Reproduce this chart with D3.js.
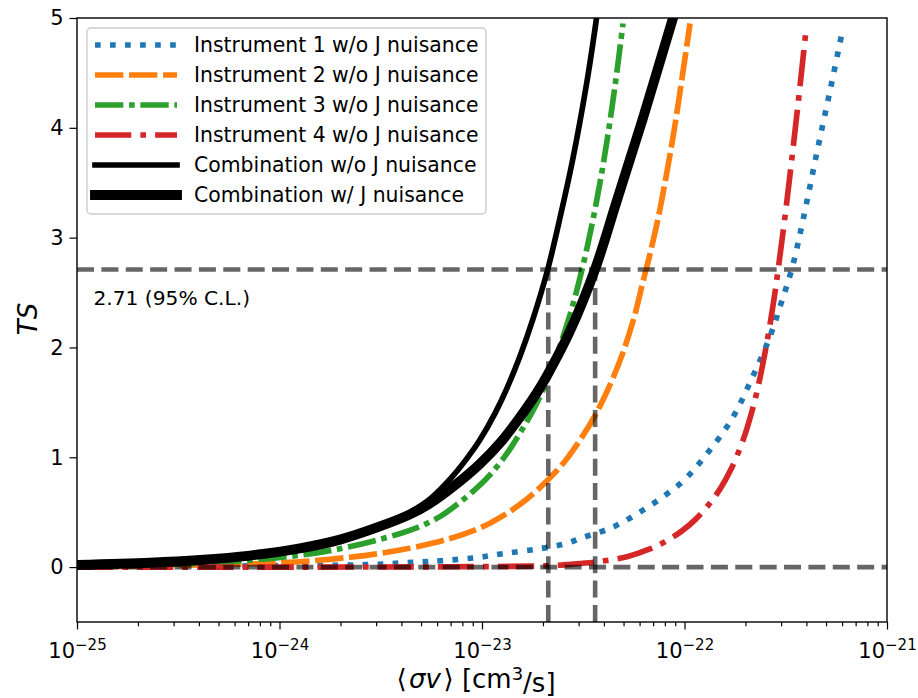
<!DOCTYPE html>
<html><head><meta charset="utf-8">
<script src="https://cdn.jsdelivr.net/npm/d3@7"></script>
<style>
body{margin:0;background:#fff}
svg{display:block}
text{font-family:"DejaVu Sans",sans-serif;fill:#000}
</style>
</head><body>
<svg id="c" width="918" height="698"></svg>
<script>
// ---------------- data ----------------
const legendLabels = [
  "Instrument 1 w/o J nuisance",
  "Instrument 2 w/o J nuisance",
  "Instrument 3 w/o J nuisance",
  "Instrument 4 w/o J nuisance",
  "Combination w/o J nuisance",
  "Combination w/ J nuisance"
];
const xTickExponents = [-25, -24, -23, -22, -21];
const yTicks = [0, 1, 2, 3, 4, 5];

const inst1SigmaV = [1.0e-25, 4.05e-25, 1.04e-24, 2.50e-24, 4.78e-24, 6.49e-24, 9.77e-24, 1.146e-23, 2.118e-23, 2.659e-23, 3.154e-23, 4.385e-23, 5.894e-23, 7.832e-23, 1.006e-22, 1.277e-22, 1.716e-22, 2.154e-22, 2.644e-22, 2.996e-22, 3.395e-22, 3.848e-22, 4.511e-22, 5.290e-22, 6.064e-22];
const inst1TS     = [0.003, 0.008, 0.013, 0.02, 0.045, 0.06, 0.09, 0.11, 0.18, 0.22, 0.27, 0.36, 0.49, 0.64, 0.80, 1.02, 1.35, 1.72, 2.10, 2.40, 2.72, 3.16, 3.78, 4.38, 4.91];

const inst2SigmaV = [1.0e-25, 2.29e-25, 4.05e-25, 1.04e-24, 2.23e-24, 3.94e-24, 6.95e-24, 1.095e-23, 1.668e-23, 2.428e-23, 2.980e-23, 3.614e-23, 4.286e-23, 4.914e-23, 5.631e-23, 6.239e-23, 6.754e-23, 7.397e-23, 8.102e-23, 8.874e-23, 9.72e-23, 1.065e-22];
const inst2TS     = [0.005, 0.01, 0.02, 0.04, 0.09, 0.155, 0.26, 0.40, 0.62, 0.91, 1.13, 1.38, 1.66, 1.93, 2.27, 2.60, 2.85, 3.17, 3.55, 3.97, 4.45, 4.95];

const inst3SigmaV = [1.0e-25, 2.29e-25, 4.05e-25, 1.04e-24, 1.84e-24, 3.24e-24, 4.78e-24, 6.20e-24, 7.52e-24, 9.03e-24, 1.095e-23, 1.299e-23, 1.540e-23, 1.827e-23, 2.118e-23, 2.484e-23, 2.783e-23, 3.118e-23, 3.494e-23, 3.824e-23, 4.142e-23, 4.537e-23, 4.970e-23];
const inst3TS     = [0.01, 0.02, 0.035, 0.09, 0.155, 0.26, 0.36, 0.46, 0.57, 0.69, 0.84, 1.01, 1.22, 1.46, 1.72, 2.07, 2.36, 2.71, 3.12, 3.50, 3.88, 4.38, 4.95];

const inst4SigmaV = [1.0e-25, 1.26e-24, 6.95e-24, 2.118e-23, 2.720e-23, 3.698e-23, 5.200e-23, 6.754e-23, 8.012e-23, 9.72e-23, 1.127e-22, 1.306e-22, 1.497e-22, 1.697e-22, 1.945e-22, 2.154e-22, 2.307e-22, 2.555e-22, 2.767e-22, 2.895e-22, 3.135e-22, 3.434e-22, 3.719e-22, 3.981e-22];
const inst4TS     = [0.0, 0.0, 0.003, 0.012, 0.025, 0.048, 0.095, 0.165, 0.23, 0.33, 0.43, 0.56, 0.71, 0.89, 1.155, 1.42, 1.64, 2.05, 2.44, 2.70, 3.19, 3.81, 4.38, 4.89];

const combSigmaV  = [1.0e-25, 2.29e-25, 4.05e-25, 7.15e-25, 1.26e-24, 1.99e-24, 3.13e-24, 4.41e-24, 5.54e-24, 6.95e-24, 8.43e-24, 9.77e-24, 1.159e-23, 1.329e-23, 1.540e-23, 1.786e-23, 2.118e-23, 2.455e-23, 2.783e-23, 3.048e-23, 3.338e-23, 3.614e-23, 3.824e-23];
const combTS      = [0.015, 0.035, 0.06, 0.10, 0.17, 0.25, 0.37, 0.50, 0.62, 0.80, 0.99, 1.16, 1.40, 1.63, 1.92, 2.26, 2.72, 3.22, 3.68, 4.06, 4.48, 4.90, 5.23];

const combJSigmaV = [1.0e-25, 2.29e-25, 4.05e-25, 7.15e-25, 1.26e-24, 1.99e-24, 3.13e-24, 4.41e-24, 5.54e-24, 7.52e-24, 9.77e-24, 1.227e-23, 1.506e-23, 1.869e-23, 2.118e-23, 2.720e-23, 3.614e-23, 4.642e-23, 6.239e-23, 8.774e-23, 9.501e-23];
const combJTS     = [0.02, 0.04, 0.065, 0.105, 0.17, 0.25, 0.37, 0.48, 0.58, 0.76, 0.94, 1.13, 1.34, 1.59, 1.76, 2.15, 2.71, 3.34, 4.09, 5.00, 5.20];

const tsThreshold = 2.71;
const limitCombination = 2.125e-23;
const limitCombinationJ = 3.62e-23;

// ---------------- layout ----------------
const svg = d3.select("#c");
const L = 77, R = 887, T = 18, B = 622;
const x = d3.scaleLog().domain([1e-25, 1e-21]).range([L, R]);
const y = d3.scaleLinear().domain([-0.5, 5]).range([B, T]);

svg.append("defs").append("clipPath").attr("id", "clip")
  .append("rect").attr("x", L).attr("y", T).attr("width", R - L).attr("height", B - T);

const lw = 5.67;
const series = [
  {xs: inst1SigmaV, ts: inst1TS, color: "#1f77b4", width: lw, dash: [lw, 1.65*lw]},
  {xs: inst2SigmaV, ts: inst2TS, color: "#ff7f0e", width: lw, dash: [5*lw, lw]},
  {xs: inst3SigmaV, ts: inst3TS, color: "#2ca02c", width: lw, dash: [5*lw, lw, lw, lw]},
  {xs: inst4SigmaV, ts: inst4TS, color: "#d62728", width: lw, dash: [6.4*lw, 1.6*lw, lw, 1.6*lw]},
  {xs: combSigmaV,  ts: combTS,  color: "#000000", width: lw, dash: null},
  {xs: combJSigmaV, ts: combJTS, color: "#000000", width: 9.9, dash: null}
];

const line = d3.line().x(d => x(d[0])).y(d => y(d[1])).curve(d3.curveCatmullRom.alpha(0.5));
const plot = svg.append("g").attr("clip-path", "url(#clip)");

series.forEach(s => {
  plot.append("path")
    .attr("d", line(s.xs.map((v, i) => [v, s.ts[i]])))
    .attr("fill", "none")
    .attr("stroke", s.color)
    .attr("stroke-width", s.width)
    .attr("stroke-dasharray", s.dash ? s.dash.join(",") : null)
    .attr("stroke-linejoin", "round");
});

// reference lines
const gw = 4.6;
const refStyle = sel => sel.attr("stroke", "#000").attr("stroke-opacity", 0.6)
  .attr("stroke-width", gw).attr("stroke-dasharray", [3.7*gw, 1.6*gw].join(","));
plot.append("line").attr("x1", L).attr("x2", R).attr("y1", y(tsThreshold)).attr("y2", y(tsThreshold)).call(refStyle);
plot.append("line").attr("x1", L).attr("x2", R).attr("y1", y(0)).attr("y2", y(0)).call(refStyle);
[limitCombination, limitCombinationJ].forEach(v => {
  plot.append("line").attr("x1", x(v)).attr("x2", x(v)).attr("y1", y(-0.5)).attr("y2", y(tsThreshold)).call(refStyle);
});

svg.append("text").attr("x", 93.5).attr("y", 305).attr("font-size", 20.2)
  .text("2.71 (95% C.L.)");

// ---------------- axes ----------------
const majors = xTickExponents.map(e => Math.pow(10, e));
const minors = [];
for (let e = -25; e < -21; e++) for (let m = 2; m <= 9; m++) minors.push(m * Math.pow(10, e));

const xAxis = svg.append("g").attr("transform", `translate(0,${B})`)
  .call(d3.axisBottom(x).tickValues(majors).tickSize(7.5).tickPadding(6).tickFormat(""));
xAxis.selectAll(".tick text").each(function(d, i) {
  const t = d3.select(this).attr("font-size", 21).attr("fill", "#000").attr("dy", "1.05em");
  t.append("tspan").text("10");
  t.append("tspan").attr("dy", "-0.5em").attr("font-size", 15).text("\u2212" + Math.abs(xTickExponents[i]));
});
svg.append("g").attr("transform", `translate(0,${B})`)
  .call(d3.axisBottom(x).tickValues(minors).tickSize(4.3).tickFormat(""));

const yAxis = svg.append("g").attr("transform", `translate(${L},0)`)
  .call(d3.axisLeft(y).tickValues(yTicks).tickSize(7.5).tickPadding(6).tickFormat(d3.format("d")));
yAxis.selectAll(".tick text").attr("font-size", 21).attr("fill", "#000");

svg.selectAll(".domain").remove();
svg.selectAll(".tick line").attr("stroke", "#000").attr("stroke-width", 1.2);

svg.append("rect").attr("x", L).attr("y", T).attr("width", R - L).attr("height", B - T)
  .attr("fill", "none").attr("stroke", "#000").attr("stroke-width", 1.4);

// axis labels
const xl = svg.append("text").attr("x", 476).attr("y", 688)
  .attr("text-anchor", "middle").attr("font-size", 26);
xl.append("tspan").text("\u27E8");
xl.append("tspan").attr("dx", 2.5).attr("font-style", "italic").text("\u03C3v");
xl.append("tspan").attr("dx", 2.5).text("\u27E9 [cm");
xl.append("tspan").attr("dy", "-0.45em").attr("font-size", 18).text("3");
xl.append("tspan").attr("dy", "0.45em").text("/s]");

svg.append("text").attr("transform", "translate(37,319) rotate(-90)")
  .attr("text-anchor", "middle").attr("font-size", 26).attr("font-style", "italic").text("TS");

// ---------------- legend ----------------
const lg = svg.append("g");
lg.append("rect").attr("x", 87).attr("y", 28).attr("width", 399).attr("height", 186).attr("rx", 4)
  .attr("fill", "#fff").attr("fill-opacity", 0.8).attr("stroke", "#cccccc").attr("stroke-width", 1.4);
series.forEach((s, i) => {
  const yy = 45 + 30 * i;
  lg.append("line").attr("x1", 95).attr("x2", 177).attr("y1", yy).attr("y2", yy)
    .attr("stroke", s.color).attr("stroke-width", s.width)
    .attr("stroke-dasharray", s.dash ? s.dash.join(",") : null)
    .attr("stroke-linecap", s.dash ? "butt" : "square");
  lg.append("text").attr("x", 194).attr("y", yy).attr("dy", "0.36em").attr("font-size", 20.4)
    .text(legendLabels[i]);
});
</script>
</body></html>
